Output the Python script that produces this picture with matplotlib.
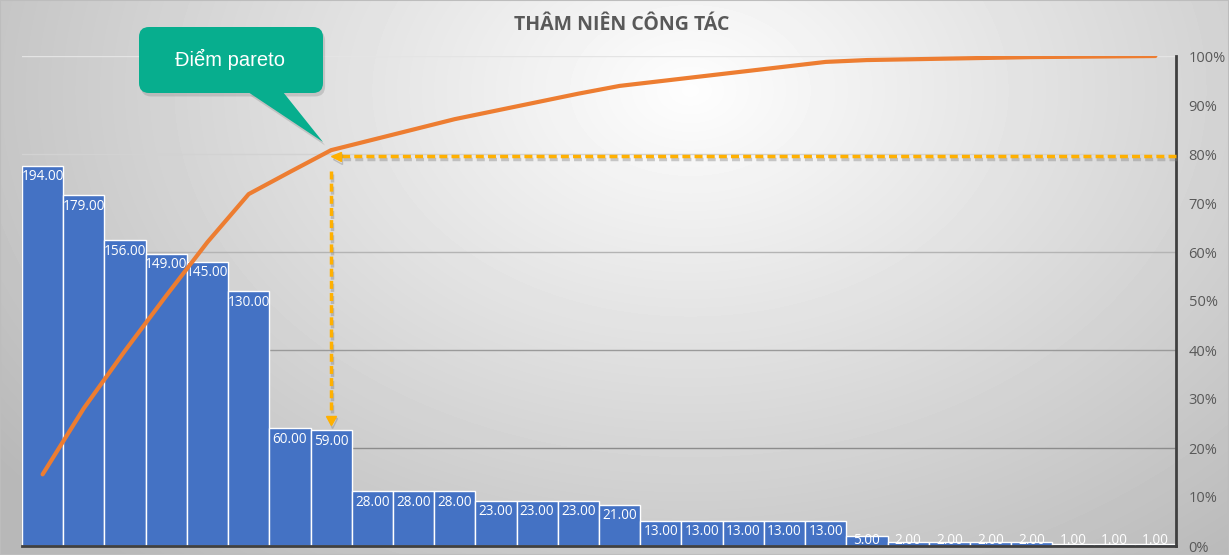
import numpy as np
import matplotlib.pyplot as plt
import matplotlib.patheffects as pe
from matplotlib.patches import FancyBboxPatch, Polygon, Rectangle
from matplotlib.transforms import IdentityTransform

# data
values = [194, 179, 156, 149, 145, 130, 60, 59, 28, 28, 28, 23, 23, 23, 21,
          13, 13, 13, 13, 13, 5, 2, 2, 2, 2, 1, 1, 1]
pct_ticks = [0, 0.1, 0.2, 0.3, 0.4, 0.5, 0.6, 0.7, 0.8, 0.9, 1.0]
pct_labels = ['0%', '10%', '20%', '30%', '40%', '50%', '60%', '70%', '80%', '90%', '100%']
grid_levels = [0.2, 0.4, 0.6, 0.8, 1.0]
grid_colors = ['#8c8c8c', '#9a9a9a', '#b4b4b4', '#d2d2d2', '#e4e4e4']
pareto_idx = 7
pareto_level = 0.795
title = 'THÂM NIÊN CÔNG TÁC'
callout_text = 'Điểm pareto'

W, H = 1229, 555
fig = plt.figure(figsize=(W / 100, H / 100), dpi=100)

# radial grey background like the Excel chart area
bg = fig.add_axes([0, 0, 1, 1], zorder=-10)
yy, xx = np.mgrid[0:H, 0:W]
d = np.sqrt(((xx - 690) / 760) ** 2 + ((yy - 90) / 540) ** 2)
shade = np.clip(0.995 - 0.24 * d, 0.72, 1)
bg.imshow(shade, cmap='gray', vmin=0, vmax=1, aspect='auto', extent=[0, 1, 0, 1])
bg.axis('off')
fig.add_artist(Rectangle((0, 0), 1, 1, transform=fig.transFigure, fill=False,
                         edgecolor='#bdbdbd', lw=1.5))

ax = fig.add_axes([22 / W, 9 / H, 1154 / W, 490 / H])
ax.patch.set_alpha(0)
x = np.arange(len(values))
ymax = 250
px_per_unit = 490 / ymax

for lvl, c in zip(grid_levels, grid_colors):
    ax.axhline(lvl * ymax, color=c, lw=1, zorder=0)

ax.bar(x, values, width=1, color='#4472C4', edgecolor='white', linewidth=1, zorder=2)
for i, v in enumerate(values):
    ly = max(v - 11 / px_per_unit, 6 / px_per_unit)
    ax.text(i, ly, f'{v:.2f}', ha='center', va='center', color='white',
            fontsize=9.8, family='Open Sans', zorder=3)

ax.set_xlim(-0.5, len(values) - 0.5)
ax.set_ylim(0, ymax)
ax.set_xticks([])
ax.set_yticks([])
for s in ['left', 'top', 'right']:
    ax.spines[s].set_visible(False)
ax.spines['bottom'].set_color('#404040')
ax.spines['bottom'].set_linewidth(2)

ax2 = ax.twinx()
ax2.set_ylim(0, 1)
ax2.set_yticks(pct_ticks)
ax2.set_yticklabels(pct_labels, color='#595959', fontsize=10.5, family='Open Sans')
ax2.tick_params(axis='y', length=0, pad=9)
for s in ['left', 'top', 'bottom']:
    ax2.spines[s].set_visible(False)
ax2.spines['right'].set_color('#404040')
ax2.spines['right'].set_linewidth(2)

cum = np.cumsum(values) / np.sum(values)
ax2.plot(x, cum, color='#ED7D31', lw=3, solid_capstyle='round', zorder=4)

# dashed guide arrows to the pareto point
shadow = [pe.SimpleLineShadow(offset=(1, -2), shadow_color='#808080', alpha=0.4), pe.Normal()]
gold = '#FFB000'
ax2.plot([len(values) - 0.5, pareto_idx + 0.25], [pareto_level, pareto_level], color=gold,
         lw=2.5, dashes=(2.3, 1.2), clip_on=False, path_effects=shadow, zorder=5)
ax2.plot([pareto_idx + 0.12], [pareto_level], marker='<', color=gold, ms=7, zorder=5,
         path_effects=shadow)
tip_y = values[pareto_idx] / ymax + 0.02
ax2.plot([pareto_idx, pareto_idx], [0.765, tip_y + 0.02], color=gold,
         lw=2.5, dashes=(2.3, 1.2), path_effects=shadow, zorder=5)
ax2.plot([pareto_idx], [tip_y], marker='v', color=gold, ms=7, zorder=5, path_effects=shadow)

# callout
teal = '#07AE8E'
box_shadow = [pe.SimplePatchShadow(offset=(1.5, -2.5), shadow_rgbFace='#707070', alpha=0.25),
              pe.Normal()]
box = FancyBboxPatch((139, H - 93), 184, 66, boxstyle='round,pad=0,rounding_size=10',
                     transform=IdentityTransform(), facecolor=teal, edgecolor='none',
                     path_effects=box_shadow)
fig.add_artist(box)
tail = Polygon([(248, H - 92), (283, H - 92), (323, H - 142)], closed=True,
               transform=IdentityTransform(), facecolor=teal, edgecolor='none',
               path_effects=box_shadow)
fig.add_artist(tail)
fig.text(230 / W, 1 - 59 / H, callout_text, color='white', fontsize=14.5,
         family='Liberation Sans', ha='center', va='center')

fig.text(622 / W, 1 - 25 / H, title, color='#595959', fontsize=14, fontweight='bold',
         family='Open Sans', ha='center', va='center')

fig.savefig('out.png', dpi=100)
